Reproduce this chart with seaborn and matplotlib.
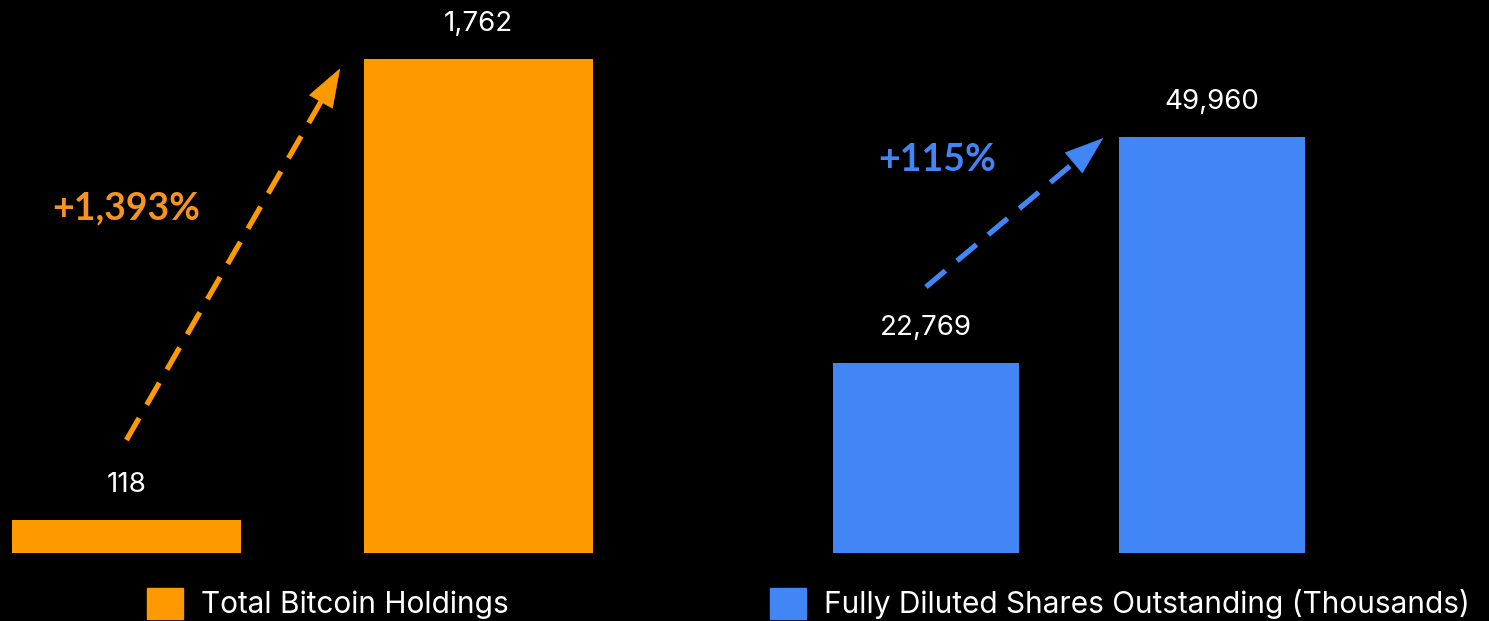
import matplotlib
matplotlib.use("Agg")
import matplotlib.pyplot as plt
from matplotlib.patches import Patch
import numpy as np
import seaborn as sns

# data
periods = ["Before", "After"]
btc_holdings = [118, 1762]
shares_out = [22769, 49960]
btc_change = "+1,393%"
shares_change = "+115%"
btc_label = "Total Bitcoin Holdings"
shares_label = "Fully Diluted Shares Outstanding (Thousands)"

orange = "#FF9900"
orange_txt = "#F7941D"
blue = "#4285F4"

sns.set_style("dark")
plt.rcParams["font.family"] = ["Inter", "DejaVu Sans"]

W, H = 1489, 621
fig = plt.figure(figsize=(W / 100, H / 100), dpi=100, facecolor="black")
ax1 = fig.add_axes([12 / W, 68 / H, 581 / W, 553 / H])
ax2 = fig.add_axes([833 / W, 68 / H, 472 / W, 553 / H])

sns.barplot(x=periods, y=btc_holdings, color=orange, saturation=1, width=0.65,
            linewidth=0, edgecolor="none", ax=ax1)
sns.barplot(x=periods, y=shares_out, color=blue, saturation=1, width=0.65,
            linewidth=0, edgecolor="none", ax=ax2)

for ax, vals in [(ax1, btc_holdings), (ax2, shares_out)]:
    ax.set_facecolor("black")
    ax.set_xlim(-0.325, 1.325)
    ax.set_xticks([])
    ax.set_yticks([])
    ax.set_xlabel("")
    ax.set_ylabel("")
    ax.grid(False)
    for s in ax.spines.values():
        s.set_visible(False)
    ax.bar_label(ax.containers[0], labels=[f"{v:,}" for v in vals],
                 padding=16, color="white", fontsize=20)

ax1.set_ylim(0, btc_holdings[1] * 553 / 494)
ax2.set_ylim(0, shares_out[1] * 553 / 416)


def growth_arrow(ax, start, end, color, head_px=38):
    # dashed shaft
    p0 = ax.transData.transform(start)
    p1 = ax.transData.transform(end)
    d = (p1 - p0) / np.hypot(*(p1 - p0))
    base = ax.transData.inverted().transform(p1 - d * head_px)
    ax.annotate("", xy=base, xytext=start,
                arrowprops=dict(arrowstyle="-", color=color, lw=3.8,
                                ls=(0, (4.8, 2.9)), capstyle="butt",
                                shrinkA=0, shrinkB=0))
    # solid head
    ax.annotate("", xy=end, xytext=base,
                arrowprops=dict(arrowstyle="-|>,head_length=2.7,head_width=0.95",
                                color=color, lw=0.5, shrinkA=0, shrinkB=0))


growth_arrow(ax1, (0, btc_holdings[0] + 285), (0.607, btc_holdings[1] - 33), orange)
growth_arrow(ax2, (0, shares_out[0] + 9180), (0.62, shares_out[1] - 120), blue)

ax1.text(0, 1230, btc_change, color=orange_txt, fontsize=27, fontweight="bold",
         family=["Lato", "DejaVu Sans"], ha="center", va="center")
ax2.text(0.04, 47200, shares_change, color=blue, fontsize=27, fontweight="bold",
         family=["Lato", "DejaVu Sans"], ha="center", va="center")

# legends
leg_kw = dict(loc="upper left", bbox_transform=fig.transFigure, frameon=False,
              fontsize=21.5, labelcolor="white", handlelength=1.2, handleheight=1.2,
              handletextpad=0.62, borderpad=0, borderaxespad=0)
ax1.legend(handles=[Patch(color=orange, label=btc_label)],
           bbox_to_anchor=(147 / W, 1 - 588 / H), **leg_kw)
ax2.legend(handles=[Patch(color=blue, label=shares_label)],
           bbox_to_anchor=(770 / W, 1 - 588 / H), **leg_kw)

fig.savefig("out.png", dpi=100, facecolor="black")
